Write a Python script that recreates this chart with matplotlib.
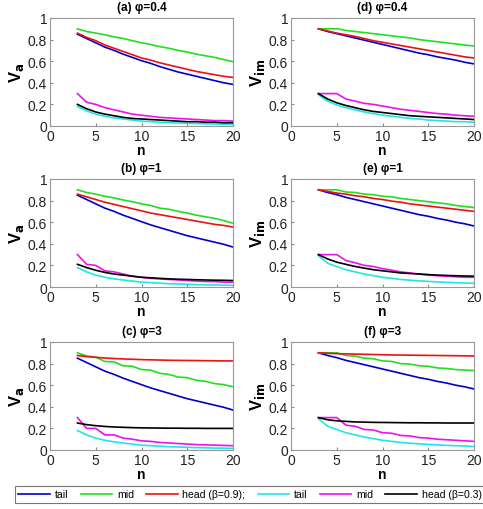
import matplotlib
matplotlib.use("Agg")
import matplotlib.pyplot as plt

plt.rcParams['font.family'] = ['Liberation Sans', 'DejaVu Sans']

n = list(range(3, 21))

# (a) phi=0.4, V_a
a_tail_h = [0.85, 0.81, 0.77, 0.73, 0.70, 0.665, 0.635, 0.605, 0.58, 0.55, 0.525, 0.50, 0.48, 0.46, 0.44, 0.42, 0.40, 0.385]
a_mid_h  = [0.90, 0.875, 0.86, 0.845, 0.825, 0.81, 0.79, 0.77, 0.755, 0.735, 0.72, 0.70, 0.685, 0.665, 0.65, 0.635, 0.615, 0.595]
a_head_h = [0.86, 0.82, 0.79, 0.75, 0.72, 0.69, 0.66, 0.63, 0.61, 0.585, 0.565, 0.545, 0.525, 0.505, 0.49, 0.475, 0.46, 0.45]
a_tail_l = [0.18, 0.14, 0.11, 0.09, 0.075, 0.065, 0.055, 0.045, 0.04, 0.035, 0.03, 0.028, 0.025, 0.022, 0.02, 0.018, 0.017, 0.015]
a_mid_l  = [0.30, 0.22, 0.20, 0.17, 0.15, 0.13, 0.11, 0.10, 0.09, 0.08, 0.075, 0.07, 0.065, 0.06, 0.055, 0.05, 0.05, 0.045]
a_head_l = [0.20, 0.16, 0.13, 0.11, 0.095, 0.08, 0.07, 0.065, 0.06, 0.055, 0.05, 0.045, 0.04, 0.04, 0.035, 0.035, 0.03, 0.03]

# (b) phi=1, V_a
b_tail_h = [0.85, 0.81, 0.77, 0.73, 0.70, 0.665, 0.635, 0.605, 0.575, 0.55, 0.525, 0.50, 0.475, 0.455, 0.435, 0.415, 0.395, 0.37]
b_mid_h  = [0.90, 0.875, 0.86, 0.84, 0.825, 0.805, 0.79, 0.77, 0.755, 0.73, 0.72, 0.70, 0.685, 0.665, 0.65, 0.635, 0.615, 0.59]
b_head_h = [0.86, 0.835, 0.81, 0.785, 0.765, 0.745, 0.725, 0.705, 0.685, 0.67, 0.655, 0.64, 0.625, 0.61, 0.595, 0.58, 0.57, 0.555]
b_tail_l = [0.18, 0.14, 0.11, 0.09, 0.075, 0.065, 0.055, 0.045, 0.04, 0.035, 0.03, 0.028, 0.025, 0.022, 0.02, 0.018, 0.017, 0.015]
b_mid_l  = [0.30, 0.21, 0.20, 0.15, 0.14, 0.12, 0.10, 0.09, 0.08, 0.075, 0.07, 0.065, 0.06, 0.055, 0.05, 0.05, 0.045, 0.045]
b_head_l = [0.21, 0.18, 0.155, 0.135, 0.12, 0.11, 0.10, 0.09, 0.085, 0.08, 0.075, 0.072, 0.07, 0.067, 0.065, 0.063, 0.062, 0.06]

# (c) phi=3, V_a
c_tail_h = [0.85, 0.81, 0.77, 0.73, 0.70, 0.665, 0.635, 0.605, 0.575, 0.55, 0.525, 0.50, 0.475, 0.455, 0.435, 0.415, 0.395, 0.37]
c_mid_h  = [0.90, 0.87, 0.86, 0.82, 0.815, 0.78, 0.775, 0.745, 0.74, 0.71, 0.70, 0.675, 0.67, 0.645, 0.635, 0.615, 0.605, 0.585]
c_head_h = [0.875, 0.865, 0.858, 0.852, 0.847, 0.843, 0.84, 0.837, 0.835, 0.833, 0.831, 0.83, 0.829, 0.828, 0.827, 0.826, 0.825, 0.825]
c_tail_l = [0.18, 0.14, 0.11, 0.09, 0.075, 0.065, 0.055, 0.045, 0.04, 0.035, 0.03, 0.028, 0.025, 0.022, 0.02, 0.018, 0.017, 0.015]
c_mid_l  = [0.30, 0.20, 0.20, 0.14, 0.14, 0.11, 0.10, 0.085, 0.08, 0.07, 0.065, 0.06, 0.055, 0.05, 0.048, 0.045, 0.042, 0.04]
c_head_l = [0.25, 0.235, 0.225, 0.218, 0.213, 0.21, 0.207, 0.205, 0.204, 0.203, 0.202, 0.202, 0.201, 0.201, 0.2, 0.2, 0.2, 0.2]

# (d) phi=0.4, V_im
d_tail_h = [0.90, 0.875, 0.855, 0.835, 0.815, 0.795, 0.775, 0.755, 0.735, 0.715, 0.695, 0.675, 0.66, 0.64, 0.625, 0.61, 0.59, 0.575]
d_mid_h  = [0.90, 0.90, 0.90, 0.885, 0.875, 0.865, 0.855, 0.845, 0.835, 0.825, 0.815, 0.80, 0.79, 0.78, 0.77, 0.76, 0.75, 0.74]
d_head_h = [0.90, 0.88, 0.86, 0.845, 0.83, 0.81, 0.79, 0.775, 0.76, 0.745, 0.73, 0.715, 0.70, 0.685, 0.67, 0.655, 0.64, 0.63]
d_tail_l = [0.29, 0.23, 0.195, 0.17, 0.15, 0.13, 0.115, 0.10, 0.09, 0.08, 0.07, 0.065, 0.055, 0.05, 0.045, 0.04, 0.04, 0.035]
d_mid_l  = [0.30, 0.30, 0.30, 0.25, 0.23, 0.21, 0.20, 0.185, 0.17, 0.155, 0.145, 0.135, 0.125, 0.115, 0.11, 0.10, 0.095, 0.09]
d_head_l = [0.30, 0.25, 0.215, 0.19, 0.17, 0.15, 0.135, 0.125, 0.115, 0.105, 0.095, 0.09, 0.085, 0.08, 0.075, 0.07, 0.065, 0.06]

# (e) phi=1, V_im
e_tail_h = [0.90, 0.875, 0.855, 0.83, 0.81, 0.79, 0.77, 0.75, 0.73, 0.71, 0.69, 0.67, 0.655, 0.635, 0.62, 0.60, 0.585, 0.565]
e_mid_h  = [0.90, 0.90, 0.90, 0.88, 0.875, 0.86, 0.855, 0.84, 0.835, 0.82, 0.81, 0.80, 0.79, 0.78, 0.77, 0.755, 0.745, 0.735]
e_head_h = [0.90, 0.885, 0.87, 0.86, 0.845, 0.835, 0.82, 0.81, 0.795, 0.785, 0.77, 0.76, 0.75, 0.74, 0.73, 0.72, 0.71, 0.70]
e_tail_l = [0.29, 0.22, 0.19, 0.16, 0.14, 0.12, 0.105, 0.09, 0.08, 0.07, 0.063, 0.057, 0.052, 0.047, 0.043, 0.04, 0.037, 0.035]
e_mid_l  = [0.30, 0.30, 0.30, 0.245, 0.225, 0.20, 0.19, 0.17, 0.155, 0.14, 0.13, 0.12, 0.11, 0.105, 0.10, 0.095, 0.09, 0.09]
e_head_l = [0.30, 0.26, 0.23, 0.21, 0.19, 0.175, 0.16, 0.15, 0.14, 0.13, 0.125, 0.12, 0.115, 0.11, 0.107, 0.104, 0.102, 0.10]

# (f) phi=3, V_im
f_tail_h = [0.90, 0.875, 0.855, 0.83, 0.81, 0.79, 0.77, 0.75, 0.73, 0.71, 0.69, 0.67, 0.655, 0.635, 0.62, 0.60, 0.585, 0.565]
f_mid_h  = [0.90, 0.90, 0.90, 0.875, 0.87, 0.85, 0.845, 0.825, 0.82, 0.80, 0.795, 0.78, 0.775, 0.76, 0.755, 0.745, 0.74, 0.735]
f_head_h = [0.90, 0.895, 0.892, 0.89, 0.888, 0.886, 0.884, 0.882, 0.88, 0.879, 0.878, 0.877, 0.876, 0.875, 0.874, 0.873, 0.872, 0.87]
f_tail_l = [0.29, 0.22, 0.19, 0.16, 0.14, 0.12, 0.105, 0.09, 0.08, 0.07, 0.063, 0.057, 0.052, 0.047, 0.043, 0.04, 0.037, 0.032]
f_mid_l  = [0.30, 0.30, 0.30, 0.23, 0.22, 0.19, 0.185, 0.16, 0.155, 0.135, 0.13, 0.115, 0.11, 0.10, 0.095, 0.09, 0.085, 0.08]
f_head_l = [0.30, 0.28, 0.27, 0.265, 0.26, 0.258, 0.256, 0.255, 0.254, 0.253, 0.252, 0.252, 0.251, 0.251, 0.25, 0.25, 0.25, 0.25]

titles = ['(a) φ=0.4', '(b) φ=1', '(c) φ=3', '(d) φ=0.4', '(e) φ=1', '(f) φ=3']
ylabels = ['V$_{\\mathbf{a}}$'] * 3 + ['V$_{\\mathbf{im}}$'] * 3
legend_labels = ['tail', 'mid', 'head (β=0.9);', 'tail', 'mid', 'head (β=0.3)']
colors = ['#0000cc', '#22dd22', '#ee1111', '#22e5e5', '#ee11ee', '#000000']
x_ticks = [0, 5, 10, 15, 20]
y_ticks = [0, 0.2, 0.4, 0.6, 0.8, 1]
y_ticklabels = ['0', '0.2', '0.4', '0.6', '0.8', '1']

panels = [
    [a_tail_h, a_mid_h, a_head_h, a_tail_l, a_mid_l, a_head_l],
    [b_tail_h, b_mid_h, b_head_h, b_tail_l, b_mid_l, b_head_l],
    [c_tail_h, c_mid_h, c_head_h, c_tail_l, c_mid_l, c_head_l],
    [d_tail_h, d_mid_h, d_head_h, d_tail_l, d_mid_l, d_head_l],
    [e_tail_h, e_mid_h, e_head_h, e_tail_l, e_mid_l, e_head_l],
    [f_tail_h, f_mid_h, f_head_h, f_tail_l, f_mid_l, f_head_l],
]

W, H = 483, 510
fig = plt.figure(figsize=(W / 100, H / 100), dpi=100)

lefts = [50, 50, 50, 291, 291, 291]
tops = [19, 180, 343, 19, 180, 343]
aw, ah = 183, 108

handles = None
for i in range(6):
    ax = fig.add_axes([lefts[i] / W, 1 - (tops[i] + ah) / H, aw / W, ah / H])
    hs = []
    for series, col in zip(panels[i], colors):
        h, = ax.plot(n, series, color=col, lw=1.2)
        hs.append(h)
    if handles is None:
        handles = hs
    ax.set_xlim(0, 20)
    ax.set_ylim(0, 1)
    ax.set_xticks(x_ticks)
    ax.set_yticks(y_ticks)
    ax.set_yticklabels(y_ticklabels)
    ax.tick_params(direction='in', length=2.5, labelsize=10, pad=2, color='#888888',
                   labelcolor='#222222')
    for s in ax.spines.values():
        s.set_color('#999999')
        s.set_linewidth(0.8)
    ax.set_title(titles[i], fontsize=8.5, fontweight='bold', pad=6)
    ax.set_xlabel('n', fontsize=10, fontweight='bold', labelpad=0)
    ax.set_ylabel(ylabels[i], fontsize=12, fontweight='bold', labelpad=1)

leg = fig.legend(handles, legend_labels, loc='center', ncol=6,
                 bbox_to_anchor=(250 / W, 1 - 495.5 / H), fontsize=7.6,
                 frameon=True, fancybox=False, edgecolor='#555555',
                 handlelength=3.0, handletextpad=0.45, columnspacing=1.15,
                 borderpad=0.3, borderaxespad=0)
leg.get_frame().set_linewidth(0.8)

fig.savefig('out.png', dpi=100)
